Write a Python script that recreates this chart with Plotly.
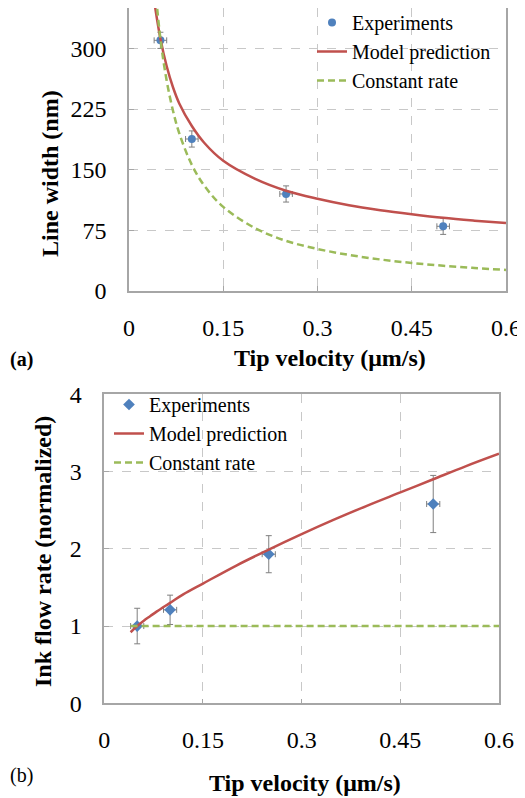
import plotly.graph_objects as go

# ---------------- data ----------------
exp_v = [0.05, 0.10, 0.25, 0.50]
exp_v_err = [0.01, 0.01, 0.01, 0.01]

width_exp = [310, 188, 120, 80]
width_err = [10, 10, 10, 10]

flow_exp = [1.00, 1.21, 1.93, 2.58]
flow_err = [0.23, 0.19, 0.24, 0.37]

curve_v = [0.04, 0.05, 0.06, 0.07, 0.08, 0.10, 0.12, 0.15, 0.20, 0.25,
           0.30, 0.35, 0.40, 0.45, 0.50, 0.55, 0.60]
width_model = [359, 312, 278, 252, 232, 204, 183, 161, 139, 124,
               114, 106, 100, 95, 90.5, 87, 84]
width_const = [390, 312, 260, 223, 195, 156, 130, 104, 78, 62,
               52, 44.6, 39, 34.7, 31.2, 28.4, 26]
flow_model = [0.92, 1.00, 1.07, 1.13, 1.19, 1.30, 1.41, 1.55, 1.78, 1.99,
              2.19, 2.38, 2.56, 2.73, 2.90, 3.07, 3.23]
flow_const = [1, 1, 1, 1, 1, 1, 1, 1, 1, 1, 1, 1, 1, 1, 1, 1, 1]

x_ticks = [0, 0.15, 0.3, 0.45, 0.6]
x_tick_text = ["0", "0.15", "0.3", "0.45", "0.6"]
w_ticks = [0, 75, 150, 225, 300]
f_ticks = [0, 1, 2, 3, 4]

names = ["Experiments", "Model prediction", "Constant rate"]

# ---------------- styles ----------------
OFF = 8                      # page body margin
W, H = 525 - OFF, 798 - OFF  # figure size so it fits the window
FONT = "Liberation Serif"
BLUE = "#4F81BD"
RED = "#C0504D"
GREEN = "#9BBB59"
GRID = "#c8c8c8"
FRAME = "#a6a6a6"
ERR = "#7f7f7f"


def px_x(p):
    return (p - OFF) / W


def px_y(p):
    return 1 - (p - OFF) / H


fig = go.Figure()

# ---- panel (a) ----
fig.add_trace(go.Scatter(
    x=exp_v, y=width_exp, mode="markers", name=names[0],
    marker=dict(symbol="circle", size=8, color=BLUE),
    error_y=dict(type="data", array=width_err, color=ERR, thickness=1, width=3),
    error_x=dict(type="data", array=exp_v_err, color=ERR, thickness=1, width=3),
    xaxis="x", yaxis="y", legend="legend"))
fig.add_trace(go.Scatter(
    x=curve_v, y=width_model, mode="lines", name=names[1],
    line=dict(color=RED, width=2.5, shape="spline"),
    xaxis="x", yaxis="y", legend="legend"))
fig.add_trace(go.Scatter(
    x=curve_v, y=width_const, mode="lines", name=names[2],
    line=dict(color=GREEN, width=2.5, dash="7px,4px", shape="spline"),
    xaxis="x", yaxis="y", legend="legend"))

# ---- panel (b) ----
fig.add_trace(go.Scatter(
    x=exp_v, y=flow_exp, mode="markers", name=names[0],
    marker=dict(symbol="diamond", size=9, color=BLUE),
    error_y=dict(type="data", array=flow_err, color=ERR, thickness=1, width=3),
    error_x=dict(type="data", array=exp_v_err, color=ERR, thickness=1, width=3),
    xaxis="x2", yaxis="y2", legend="legend2"))
fig.add_trace(go.Scatter(
    x=curve_v, y=flow_model, mode="lines", name=names[1],
    line=dict(color=RED, width=2.5, shape="spline"),
    xaxis="x2", yaxis="y2", legend="legend2"))
fig.add_trace(go.Scatter(
    x=curve_v, y=flow_const, mode="lines", name=names[2],
    line=dict(color=GREEN, width=2.5, dash="7px,4px"),
    xaxis="x2", yaxis="y2", legend="legend2"))

common_axis = dict(
    showline=True, mirror=True, linecolor=FRAME, linewidth=1.5,
    showgrid=True, gridcolor=GRID, griddash="dash", gridwidth=1,
    zeroline=False, ticks="inside", ticklen=5, tickcolor=FRAME,
    tickfont=dict(family=FONT, size=24, color="black"),
    fixedrange=True, automargin=False,
)

fig.update_layout(
    width=W, height=H, autosize=False,
    margin=dict(l=0, r=0, t=0, b=0, autoexpand=False),
    paper_bgcolor="white", plot_bgcolor="white",
    font=dict(family=FONT, color="black"),
    xaxis=dict(common_axis, domain=[px_x(129), px_x(506)], range=[0, 0.6],
               tickvals=x_ticks, ticktext=x_tick_text, anchor="y",
               ticklabelstandoff=14),
    yaxis=dict(common_axis, domain=[px_y(291), px_y(8)], range=[0, 350],
               tickvals=w_ticks, anchor="x", ticklabelstandoff=16),
    xaxis2=dict(common_axis, domain=[px_x(104.3), px_x(499)], range=[0, 0.6],
                tickvals=x_ticks, ticktext=x_tick_text, anchor="y2",
                ticklabelstandoff=14),
    yaxis2=dict(common_axis, domain=[px_y(703.3), px_y(394.3)], range=[0, 4],
                tickvals=f_ticks, anchor="x2", ticklabelstandoff=16),
    legend=dict(x=px_x(312), y=px_y(3), xanchor="left", yanchor="top",
                bgcolor="rgba(0,0,0,0)", font=dict(family=FONT, size=20),
                itemwidth=30, tracegroupgap=0),
    legend2=dict(x=px_x(109), y=px_y(385), xanchor="left", yanchor="top",
                 bgcolor="rgba(0,0,0,0)", font=dict(family=FONT, size=20),
                 itemwidth=30, tracegroupgap=0),
    showlegend=True,
)

ann_font = dict(family=FONT, size=24, color="black")
fig.add_annotation(text="<b>Tip velocity (μm/s)</b>", x=px_x(330), y=px_y(358),
                   xref="paper", yref="paper", showarrow=False, font=ann_font,
                   xanchor="center", yanchor="middle")
fig.add_annotation(text="<b>Line width (nm)</b>", x=px_x(50), y=px_y(174),
                   xref="paper", yref="paper", showarrow=False, font=ann_font,
                   textangle=-90, xanchor="center", yanchor="middle")
fig.add_annotation(text="<b>(a)</b>", x=px_x(21), y=px_y(360),
                   xref="paper", yref="paper", showarrow=False,
                   font=dict(family=FONT, size=20, color="black"),
                   xanchor="center", yanchor="middle")
fig.add_annotation(text="<b>Tip velocity (μm/s)</b>", x=px_x(305), y=px_y(783),
                   xref="paper", yref="paper", showarrow=False, font=ann_font,
                   xanchor="center", yanchor="middle")
fig.add_annotation(text="<b>Ink flow rate (normalized)</b>", x=px_x(43), y=px_y(552),
                   xref="paper", yref="paper", showarrow=False, font=ann_font,
                   textangle=-90, xanchor="center", yanchor="middle")
fig.add_annotation(text="(b)", x=px_x(21), y=px_y(775),
                   xref="paper", yref="paper", showarrow=False,
                   font=dict(family=FONT, size=20, color="black"),
                   xanchor="center", yanchor="middle")

fig.write_html("out.html")
